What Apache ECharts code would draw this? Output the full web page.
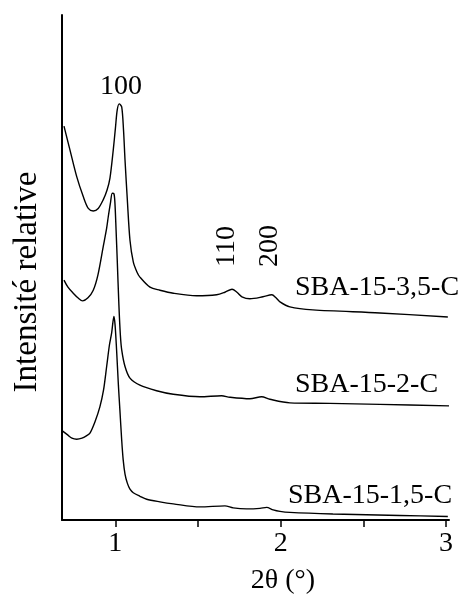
<!DOCTYPE html>
<html>
<head>
<meta charset="utf-8">
<script src="https://cdn.jsdelivr.net/npm/echarts@6/dist/echarts.min.js"></script>
<style>
html,body{margin:0;padding:0;background:#fff;}
#chart{width:465px;height:594px;}
</style>
</head>
<body>
<div id="chart"></div>
<script>
// 2θ (°) values and relative intensities (arbitrary units, 0–100 on the axis)
const xTop = [0.690,0.726,0.767,0.807,0.837,0.867,0.897,0.927,0.950,0.968,0.988,1.001,1.012,1.024,1.039,1.050,1.059,1.073,1.089,1.109,1.131,1.149,1.210,1.270,1.351,1.492,1.613,1.663,1.706,1.736,1.766,1.814,1.893,1.947,1.972,1.996,2.056,2.195,2.600,3.011];
const yTop = [78.0,73.3,68.0,64.0,61.7,61.2,61.7,63.4,65.3,67.7,73.3,77.6,81.2,82.4,81.8,77.2,71.3,63.4,55.4,51.1,49.1,48.1,46.1,45.5,44.9,44.4,44.6,45.1,45.7,45.1,44.2,43.8,44.2,44.6,44.0,43.2,42.2,41.6,41.0,40.2];

const xMid = [0.690,0.714,0.746,0.774,0.803,0.835,0.867,0.895,0.927,0.948,0.958,0.971,0.982,0.992,0.998,1.005,1.012,1.022,1.031,1.039,1.059,1.089,1.149,1.250,1.351,1.512,1.643,1.693,1.814,1.885,1.935,2.056,2.298,2.600,3.018];
const yMid = [47.5,46.1,44.9,44.0,43.4,44.0,45.5,48.5,54.1,57.8,60.1,62.8,64.7,64.6,62.8,57.4,51.5,42.6,36.6,33.7,30.4,28.1,26.7,25.6,24.9,24.4,24.6,24.3,24.0,24.4,23.9,23.2,23.1,22.9,22.6];

const xBot = [0.682,0.714,0.738,0.767,0.799,0.823,0.847,0.877,0.907,0.929,0.948,0.965,0.978,0.986,0.992,0.999,1.008,1.019,1.028,1.039,1.048,1.059,1.073,1.089,1.109,1.149,1.190,1.270,1.351,1.512,1.663,1.713,1.794,1.875,1.915,1.955,1.996,2.056,2.316,2.721,3.011];
const yBot = [17.6,16.8,16.2,16.0,16.2,16.6,17.2,19.4,22.4,25.7,30.4,34.7,37.0,39.2,40.3,38.6,33.7,26.7,21.8,15.8,11.9,9.1,7.3,6.1,5.4,4.7,4.1,3.6,3.2,2.6,2.8,2.4,2.2,2.3,2.5,2.0,1.7,1.5,1.2,0.9,0.7];

const seriesNames = ['SBA-15-3,5-C','SBA-15-2-C','SBA-15-1,5-C'];
const xLabelValues = [1,2,3];
const xTickValues = [1,1.5,2,2.5,3];
const peakLabels = ['100','110','200'];
const xTitle = '2θ (°)';
const yTitle = 'Intensité relative';

const FONT = '"Liberation Serif","Times New Roman",serif';
const zip = (xs, ys) => xs.map((x, i) => [x, ys[i]]);

const chart = echarts.init(document.getElementById('chart'), null, {renderer:'canvas'});
const lineSeries = (name, data) => ({
  name, type:'line', data, symbol:'none', smooth:0.3, silent:true,
  lineStyle:{color:'#000', width:1.4}, animation:false
});

chart.setOption({
  animation:false,
  backgroundColor:'#fff',
  grid:{left:62, right:16, top:15, bottom:74},
  xAxis:{
    type:'value', min:0.678, max:3.018,
    axisLine:{lineStyle:{color:'#000', width:2}},
    axisTick:{show:true, inside:false, length:7, customValues:xTickValues, lineStyle:{color:'#000', width:1.5}},
    axisLabel:{customValues:xLabelValues, color:'#000', fontFamily:FONT, fontSize:28, margin:10},
    splitLine:{show:false}
  },
  yAxis:{
    type:'value', min:0, max:100,
    axisLine:{show:true, lineStyle:{color:'#000', width:2}},
    axisTick:{show:false}, axisLabel:{show:false}, splitLine:{show:false}
  },
  series:[
    lineSeries(seriesNames[0], zip(xTop, yTop)),
    lineSeries(seriesNames[1], zip(xMid, yMid)),
    lineSeries(seriesNames[2], zip(xBot, yBot))
  ],
  graphic:[
    {type:'text', x:27, y:282, rotation:Math.PI/2, style:{text:yTitle, font:'33px '+FONT, fill:'#000', textAlign:'center', textVerticalAlign:'middle'}},
    {type:'text', x:283, y:581, style:{text:xTitle, font:'28px '+FONT, fill:'#000', textAlign:'center', textVerticalAlign:'middle'}},
    {type:'text', x:121, y:87, style:{text:peakLabels[0], font:'28px '+FONT, fill:'#000', textAlign:'center', textVerticalAlign:'middle'}},
    {type:'text', x:227, y:267, rotation:Math.PI/2, style:{text:peakLabels[1], font:'28px '+FONT, fill:'#000', textAlign:'left', textVerticalAlign:'middle'}},
    {type:'text', x:270, y:267, rotation:Math.PI/2, style:{text:peakLabels[2], font:'28px '+FONT, fill:'#000', textAlign:'left', textVerticalAlign:'middle'}},
    {type:'text', x:295, y:288, style:{text:seriesNames[0], font:'28px '+FONT, fill:'#000', textAlign:'left', textVerticalAlign:'middle'}},
    {type:'text', x:295, y:385, style:{text:seriesNames[1], font:'28px '+FONT, fill:'#000', textAlign:'left', textVerticalAlign:'middle'}},
    {type:'text', x:288, y:496, style:{text:seriesNames[2], font:'28px '+FONT, fill:'#000', textAlign:'left', textVerticalAlign:'middle'}}
  ]
});
</script>
</body>
</html>
